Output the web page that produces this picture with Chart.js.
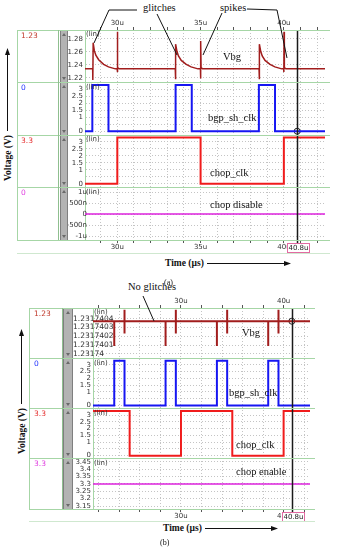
<!DOCTYPE html>
<html>
<head>
<meta charset="utf-8">
<script src="https://cdn.jsdelivr.net/npm/chart.js@4.4.1/dist/chart.umd.min.js"></script>
<style>
  body { margin: 0; background: #fff; }
  #fig { position: relative; width: 338px; height: 550px; overflow: hidden; font-family: "DejaVu Sans", sans-serif; }
  canvas { position: absolute; z-index: 1; }
  .hl { position: absolute; height: 1px; background: #a6d6a6; z-index: 2; }
  .vl { position: absolute; width: 1px; background: #a6d6a6; z-index: 2; }
  .lbl { position: absolute; font: 7.5px "DejaVu Sans"; line-height: 9px; white-space: nowrap; z-index: 2; }
  .ser { position: absolute; font: 10.5px "Liberation Serif", serif; line-height: 12px; white-space: nowrap; color: #111; z-index: 2; }
  .bold { font-weight: bold; font-size: 9.5px; }
  .vlab { position: absolute; transform: translate(-50%, -50%) rotate(-90deg); }
  .sb { position: absolute; background: #b3b3b3; border-left: 1px solid #7f7f7f; border-right: 1px solid #7f7f7f; box-sizing: border-box; z-index: 2; }
  .tri { position: absolute; left: 50%; transform: translateX(-50%); width: 0; height: 0;
         border-left: 2px solid transparent; border-right: 2px solid transparent; }
</style>
</head>
<body>
<div id="fig">
  <canvas id="ca" width="263" height="239" style="left:67px;top:14px"></canvas>
  <canvas id="cb" width="242" height="227" style="left:73px;top:294px"></canvas>

  <svg width="338" height="550" style="position:absolute;left:0;top:0;z-index:3">
    <g stroke="#111" stroke-width="1" fill="none">
      <polyline points="137,10 109,10 94,43"/>
      <line x1="157" y1="14" x2="177" y2="55"/>
      <line x1="222" y1="13" x2="203" y2="55"/>
      <polyline points="247,9 277,10 287,58"/>
      <line x1="143" y1="296" x2="154" y2="321"/>
      <line x1="7.5" y1="131" x2="7.5" y2="54"/>
      <line x1="21.5" y1="404" x2="21.5" y2="335"/>
      <line x1="207" y1="263.5" x2="286" y2="263.5"/>
      <line x1="205" y1="528.5" x2="273" y2="528.5"/>
    </g>
    <g fill="#111">
      <polygon points="7.5,48 5,55 10,55"/>
      <polygon points="21.5,329 19,336 24,336"/>
      <polygon points="291,263.5 284,261 284,266"/>
      <polygon points="278,528.5 271,526 271,531"/>
    </g>
  </svg>

  <!-- annotations -->
  <div class="ser" style="left:143px;top:2px">glitches</div>
  <div class="ser" style="left:220px;top:2px">spikes</div>
  <div class="ser" style="left:128px;top:281px">No glitches</div>

  <div class="ser" style="left:223px;top:51px">Vbg</div>
  <div class="ser" style="left:208px;top:112px">bgp_sh_clk</div>
  <div class="ser" style="left:210px;top:167px">chop_clk</div>
  <div class="ser" style="left:210px;top:199px">chop disable</div>

  <div class="ser" style="left:242px;top:327px">Vbg</div>
  <div class="ser" style="left:229px;top:387px">bgp_sh_clk</div>
  <div class="ser" style="left:236px;top:439px">chop_clk</div>
  <div class="ser" style="left:236px;top:466px">chop enable</div>

  <div class="ser bold" style="left:165px;top:257px">Time (µs)</div>
  <div class="ser bold" style="left:163px;top:522px">Time (µs)</div>
  <div class="ser" style="left:164px;top:277px;font-size:8px">(a)</div>
  <div class="ser" style="left:160px;top:537px;font-size:8px">(b)</div>
  <div class="ser bold vlab" style="left:8px;top:158px">Voltage (V)</div>
  <div class="ser bold vlab" style="left:22px;top:431px">Voltage (V)</div>
</div>

<script>
// ---------- panel (a): chopper disabled, t in µs ----------
const A_RANGE = [28.06, 42.47];
const A_VBG_T = [28.06, 28.52, 28.53, 28.55, 28.62, 28.71, 28.88, 29.18, 29.47, 29.88, 29.99, 30.0, 30.01, 30.03, 30.12,
                 33.48, 33.49, 33.51, 33.58, 33.67, 33.84, 34.14, 34.43, 34.84, 34.99, 35.0, 35.01, 35.03, 35.12,
                 38.51, 38.52, 38.54, 38.61, 38.7, 38.87, 39.17, 39.46, 39.87, 39.99, 40.0, 40.01, 40.03, 40.12, 42.47];
const A_VBG_V = [1.234, 1.234, 1.217, 1.274, 1.262, 1.255, 1.248, 1.241, 1.237, 1.234, 1.234, 1.229, 1.291, 1.236, 1.234,
                 1.234, 1.218, 1.272, 1.261, 1.254, 1.247, 1.241, 1.237, 1.234, 1.234, 1.219, 1.277, 1.236, 1.234,
                 1.234, 1.218, 1.272, 1.261, 1.254, 1.247, 1.241, 1.237, 1.234, 1.234, 1.229, 1.291, 1.236, 1.234, 1.234];
const A_SH_T = [28.06, 28.5, 28.5, 29.47, 29.47, 33.5, 33.5, 34.47, 34.47, 38.5, 38.5, 39.47, 39.47, 42.47];
const A_SH_V = [0, 0, 3.3, 3.3, 0, 0, 3.3, 3.3, 0, 0, 3.3, 3.3, 0, 0];
const A_CHOP_T = [28.06, 30, 30, 35, 35, 40, 40, 42.47];
const A_CHOP_V = [0, 0, 3.3, 3.3, 0, 0, 3.3, 3.3];
const A_EN_T = [28.06, 42.47];
const A_EN_V = [0, 0];
const A_EN_TICKS = ['-1u', '-500n', '0', '500n', '1u'];
const A_ROW_LABELS = ['1.23', '0', '3.3', '0'];

// ---------- panel (b): chopper enabled ----------
const B_RANGE = [21.43, 42.57];
const B_BASE = 1.23174037;
const B_VBG_T = [21.43, 23.5, 23.5, 23.5, 24.5, 24.5, 24.5, 24.5, 28.5, 28.5, 28.5, 29.5, 29.5, 29.5, 29.5,
                 33.5, 33.5, 33.5, 34.5, 34.5, 34.5, 34.5, 38.5, 38.5, 38.5, 39.5, 39.5, 39.5, 39.5, 42.57];
const B_VBG_V = [B_BASE, B_BASE, 1.23174009, B_BASE, B_BASE, 1.2317405, 1.23174023, B_BASE,
                 B_BASE, 1.23174009, B_BASE, B_BASE, 1.2317405, 1.23174023, B_BASE,
                 B_BASE, 1.23174009, B_BASE, B_BASE, 1.2317405, 1.23174023, B_BASE,
                 B_BASE, 1.23174009, B_BASE, B_BASE, 1.2317405, 1.23174023, B_BASE, B_BASE];
const B_SH_T = [21.43, 23.5, 23.5, 24.5, 24.5, 28.5, 28.5, 29.5, 29.5, 33.5, 33.5, 34.5, 34.5, 38.5, 38.5, 39.5, 39.5, 42.57];
const B_SH_V = [0, 0, 3.3, 3.3, 0, 0, 3.3, 3.3, 0, 0, 3.3, 3.3, 0, 0, 3.3, 3.3, 0, 0];
const B_CHOP_T = [21.43, 25, 25, 30, 30, 35, 35, 40, 40, 42.57];
const B_CHOP_V = [3.3, 3.3, 0, 0, 3.3, 3.3, 0, 0, 3.3, 3.3];
const B_EN_T = [21.43, 42.57];
const B_EN_V = [3.3, 3.3];
const B_ROW_LABELS = ['1.23', '0', '3.3', '3.3'];

const CURSOR_T = 40.8;
const CURSOR_LABEL = '40.8u';

const C_VBG = '#a11d1d', C_SH = '#1616f2', C_CHOP = '#f01c1c', C_EN = '#dd22dd';
const GREEN = '#a6d6a6', GRID = '#c4c4c4';
const TICK_FONT = { family: 'DejaVu Sans', size: 7 };

const pts = (t, v) => t.map((x, i) => ({ x, y: v[i] }));
const clkFmt = v => Math.abs(v - 0.5) < 1e-9 ? '' : String(+v.toFixed(1));

/* ── decorations: frame, row labels, scrollbars ───────────────── */
const fig = document.getElementById('fig');
function addDiv(cls, css, text) {
  const d = document.createElement('div');
  d.className = cls;
  d.style.cssText = css;
  if (text) d.textContent = text;
  fig.appendChild(d);
  return d;
}
function frame(rows, x0, x1, xc, sbX, sbW, bottomLine, labels, labelX, colors) {
  rows.forEach(y => addDiv('hl', `left:${x0}px;top:${y}px;width:${x1 - x0}px`));
  addDiv('hl', `left:${x0}px;top:${bottomLine}px;width:${x1 - x0}px;background:#cfe8cf`);
  const top = rows[0], bot = rows[rows.length - 1];
  addDiv('vl', `left:${x0}px;top:${top}px;height:${bot - top}px`);
  addDiv('vl', `left:${xc}px;top:${top}px;height:${bot - top}px;background:#8fbf8f`);
  for (let i = 0; i < rows.length - 1; i++) {
    const h = rows[i + 1] - rows[i];
    const sb = addDiv('sb', `left:${sbX}px;top:${rows[i] + 1}px;width:${sbW}px;height:${h - 1}px`);
    const t1 = document.createElement('div');
    t1.className = 'tri'; t1.style.cssText = 'top:2px;border-bottom:3px solid #6a6a6a';
    const t2 = document.createElement('div');
    t2.className = 'tri'; t2.style.cssText = 'bottom:2px;border-top:3px solid #6a6a6a';
    sb.appendChild(t1); sb.appendChild(t2);
    addDiv('lbl', `left:${labelX}px;top:${rows[i] + 1}px;color:${colors[i]}`, labels[i]);
  }
}
frame([30, 82, 135, 187, 240], 17, 330, 58, 60, 8, 253, A_ROW_LABELS, 21, ['#c0392b', '#2233ff', '#e53030', '#e040e0']);
frame([308, 358, 408, 458, 509], 29, 315, 62, 63, 10, 521, B_ROW_LABELS, 34, ['#c0392b', '#2233ff', '#e53030', '#e040e0']);
[[85, 30], [85, 82.5], [85, 135], [85, 187.5], [93, 308], [93, 358.5], [93, 408.5], [93, 458.5]].forEach(([x, y]) =>
  addDiv('lbl', `left:${x + 1}px;top:${y}px;color:#333;font-size:7px`, '(lin)'));

/* ── chart helpers ─────────────────────────────────────────────── */
// tick labels may run into the plot, as in the original waveform viewer
function noLabelClip(s) { s._computeLabelArea = () => undefined; }

function yRow(min, max, step, fmt, w, tickExtra, gridColor) {
  return {
    type: 'linear', position: 'left', stack: 'rows', stackWeight: 1, min, max,
    grid: { color: gridColor || GRID, drawTicks: false },
    border: { color: GREEN, dash: [1, 2] },
    ticks: Object.assign({ stepSize: step, includeBounds: false, autoSkip: false, padding: 2,
             font: TICK_FONT, color: '#333', callback: fmt }, tickExtra || {}),
    afterFit: s => { s.width = w; noLabelClip(s); }
  };
}
function xAxis(range, step, fmt, pos, h) {
  return {
    type: 'linear', position: pos, min: range[0], max: range[1],
    grid: pos === 'top'
      ? { drawOnChartArea: false, tickLength: 3, tickColor: '#555' }
      : { color: GRID, tickLength: 3, tickColor: '#555' },
    border: { color: GREEN, dash: [1, 2] },
    ticks: { stepSize: step, includeBounds: false, autoSkip: false, maxRotation: 0, padding: 0,
             maxTicksLimit: 100, font: TICK_FONT, color: '#333', callback: fmt },
    afterFit: s => { s.height = h; }
  };
}
function line(data, color, yAxisID, width) {
  return { data, borderColor: color, borderWidth: width, yAxisID, xAxisID: 'x',
           pointRadius: 0, tension: 0, fill: false };
}
function marker(x, y, yAxisID) {
  return { data: [{ x, y }], yAxisID, xAxisID: 'x', showLine: false, pointRadius: 3,
           pointBorderWidth: 1, pointBorderColor: '#222', pointBackgroundColor: 'rgba(0,0,0,0)' };
}

const cursorPlugin = {
  id: 'cursor',
  afterDatasetsDraw(chart, args, opts) {
    const { ctx, chartArea: a } = chart;
    const px = Math.round(chart.scales.x.getPixelForValue(opts.t)) + 0.5;
    ctx.save();
    ctx.strokeStyle = '#1a1a1a'; ctx.lineWidth = 1.5;
    ctx.beginPath(); ctx.moveTo(px, a.top); ctx.lineTo(px, a.bottom + 3); ctx.stroke();
    const w = 22, h = 9, top = a.bottom + 3;
    ctx.fillStyle = '#fff'; ctx.fillRect(px - w / 2, top, w, h);
    ctx.strokeStyle = '#e26aa2'; ctx.lineWidth = 1;
    ctx.strokeRect(Math.round(px - w / 2) + 0.5, top + 0.5, w, h);
    ctx.fillStyle = '#222'; ctx.font = '7px "DejaVu Sans"';
    ctx.textAlign = 'center'; ctx.textBaseline = 'middle';
    ctx.fillText(opts.label, px + 1, top + h / 2 + 1);
    ctx.restore();
  }
};

const common = {
  responsive: false, animation: false, devicePixelRatio: 1,
  layout: { padding: 0 },
  plugins: { legend: { display: false }, tooltip: { enabled: false },
             cursor: { t: CURSOR_T, label: CURSOR_LABEL } }
};

/* ── panel (a) ─────────────────────────────────────────────────── */
new Chart(document.getElementById('ca'), {
  type: 'line',
  data: { datasets: [
    line(pts(A_VBG_T, A_VBG_V), C_VBG, 'y1', 1.5),
    line(pts(A_SH_T, A_SH_V), C_SH, 'y2', 2),
    line(pts(A_CHOP_T, A_CHOP_V), C_CHOP, 'y3', 2),
    line(pts(A_EN_T, A_EN_V), C_EN, 'y4', 1.5),
    marker(CURSOR_T, 0, 'y2')
  ] },
  options: Object.assign({}, common, {
    scales: {
      xt: xAxis(A_RANGE, 1, v => v % 5 === 0 ? v + 'u' : '', 'top', 16),
      x: xAxis(A_RANGE, 1, v => v % 5 === 0 ? v + 'u' : '', 'bottom', 13),
      y4: yRow(-1.18e-6, 1.205e-6, 5e-7, v => A_EN_TICKS[Math.round(v * 2e6) + 2], 18, { padding: -2 }),
      y3: yRow(-0.27, 3.48, 0.5, clkFmt, 18),
      y2: yRow(-0.27, 3.48, 0.5, clkFmt, 18),
      y1: yRow(1.2130, 1.2938, 0.02, v => v.toFixed(2), 18)
    }
  }),
  plugins: [cursorPlugin]
});

/* ── panel (b) ─────────────────────────────────────────────────── */
const B_TOP_HIDE = 1.23174045;
new Chart(document.getElementById('cb'), {
  type: 'line',
  data: { datasets: [
    line(pts(B_VBG_T, B_VBG_V), C_VBG, 'y1', 2),
    line(pts(B_SH_T, B_SH_V), C_SH, 'y2', 2),
    line(pts(B_CHOP_T, B_CHOP_V), C_CHOP, 'y3', 2),
    line(pts(B_EN_T, B_EN_V), C_EN, 'y4', 1.5),
    marker(CURSOR_T, B_BASE, 'y1')
  ] },
  options: Object.assign({}, common, {
    scales: {
      xt: xAxis(B_RANGE, 2, v => v % 10 === 0 ? v + 'u' : '', 'top', 14),
      x: xAxis(B_RANGE, 2, v => v % 10 === 0 ? v + 'u' : '', 'bottom', 12),
      y4: yRow(3.1296, 3.472, 0.05, v => String(+v.toFixed(2)), 20),
      y3: yRow(-0.23, 3.49, 0.5, clkFmt, 20),
      y2: yRow(-0.23, 3.49, 0.5, clkFmt, 20),
      y1: yRow(1.23173995, 1.23174052, 1e-7, v => v > B_TOP_HIDE ? '' : String(+v.toFixed(7)), 20,
               { crossAlign: 'far', font: { family: 'DejaVu Sans', size: 7.5 } },
               c => (c.tick && c.tick.value > B_TOP_HIDE) ? 'rgba(0,0,0,0)' : GRID)
    }
  }),
  plugins: [cursorPlugin]
});
</script>
</body>
</html>
